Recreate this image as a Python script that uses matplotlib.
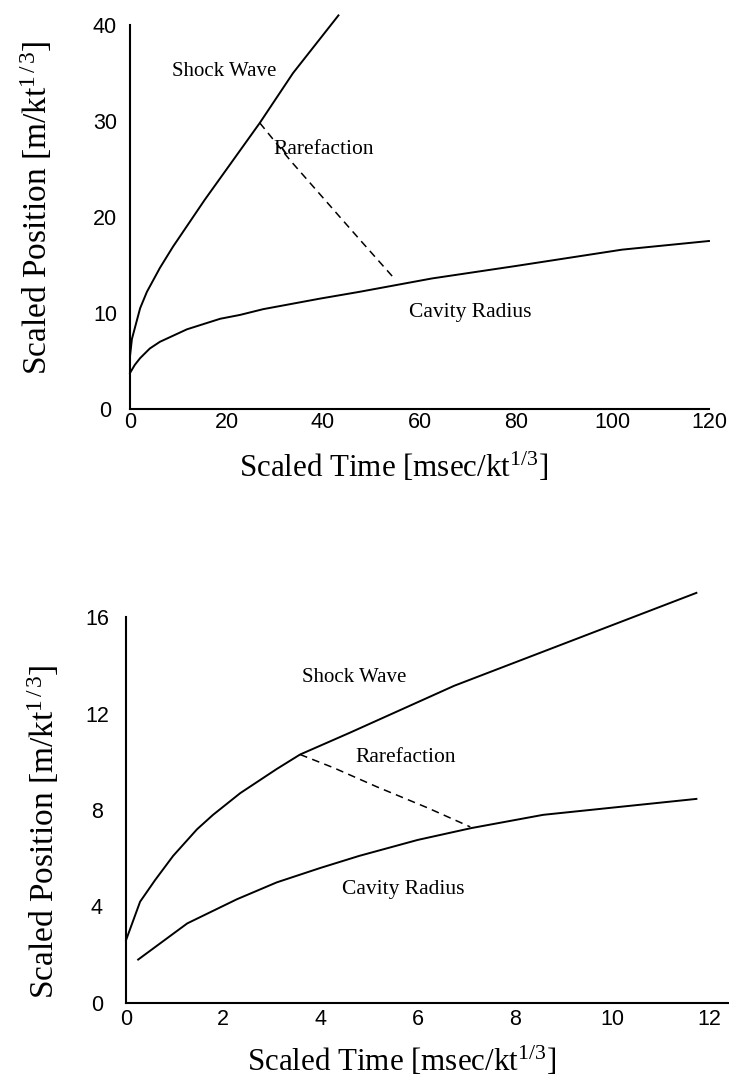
import matplotlib
matplotlib.use("Agg")
import matplotlib.pyplot as plt

plt.rcParams['mathtext.fontset'] = 'custom'
plt.rcParams['mathtext.rm'] = 'Liberation Serif'
plt.rcParams['mathtext.it'] = 'Liberation Serif:italic'

# ---------------- data: top panel ----------------
top_shock_t = [0, 0.4, 2.1, 3.5, 6.2, 8.9, 15.5, 26.9, 33.8, 43.2]
top_shock_y = [5.5, 7.3, 10.5, 12.2, 14.7, 16.9, 21.8, 29.8, 35.0, 41.0]

top_cavity_t = [0, 1.0, 2.1, 4.1, 6.2, 11.8, 18.7, 22.8, 27.6, 39.4, 47.5, 62.6, 80, 102, 120]
top_cavity_y = [3.75, 4.6, 5.3, 6.3, 7.0, 8.3, 9.4, 9.8, 10.4, 11.5, 12.2, 13.6, 14.9, 16.6, 17.5]

top_rare_t = [26.9, 33.2, 36.7, 43.5, 47.7, 54.5]
top_rare_y = [29.8, 25.9, 23.9, 20.0, 17.6, 13.75]

top_xticks = [0, 20, 40, 60, 80, 100, 120]
top_yticks = [0, 10, 20, 30, 40]

# ---------------- data: bottom panel ----------------
bot_shock_t = [0, 0.29, 0.6, 0.97, 1.46, 1.79, 2.35, 3.1, 3.58, 4.6, 6.75, 11.73]
bot_shock_y = [2.6, 4.2, 5.1, 6.1, 7.2, 7.8, 8.7, 9.7, 10.3, 11.2, 13.15, 17.0]

bot_cavity_t = [0.25, 1.26, 2.28, 3.1, 4.0, 4.8, 6.0, 7.1, 8.58, 11.73]
bot_cavity_y = [1.8, 3.3, 4.3, 5.0, 5.6, 6.1, 6.76, 7.25, 7.8, 8.46]

bot_rare_t = [3.58, 4.27, 5.16, 6.19, 7.08]
bot_rare_y = [10.3, 9.75, 8.96, 8.1, 7.3]

bot_xticks = [0, 2, 4, 6, 8, 10, 12]
bot_yticks = [0, 4, 8, 12, 16]

labels = ["Shock Wave", "Rarefaction", "Cavity Radius"]
xlabel = r"Scaled Time [msec/kt$^{\mathrm{1/3}}$]"
ylabel = r"Scaled Position [m/kt$^{\mathrm{1\,/\,3}}$]"

W, H = 729, 1080
fig = plt.figure(figsize=(W / 100, H / 100), dpi=100)

serif = 'Liberation Serif'
sans = 'Liberation Sans'


def make_axes(left, right, top, bottom):
    return fig.add_axes([left / W, 1 - bottom / H, (right - left) / W, (bottom - top) / H])


def style(ax, xticks, yticks, xpad, ypad):
    for s in ['top', 'right']:
        ax.spines[s].set_visible(False)
    for s in ['left', 'bottom']:
        ax.spines[s].set_linewidth(1.5)
        ax.spines[s].set_color('black')
    ax.set_xticks(xticks)
    ax.set_yticks(yticks)
    ax.tick_params(axis='both', length=0, labelsize=15.5)
    ax.tick_params(axis='x', pad=xpad)
    ax.tick_params(axis='y', pad=ypad)
    for lab in ax.get_xticklabels() + ax.get_yticklabels():
        lab.set_fontfamily(sans)
    for lab in ax.get_yticklabels():
        lab.set_horizontalalignment('center')


line_kw = dict(color='black', linewidth=1.4, clip_on=False)
dash_kw = dict(color='black', linewidth=1.1, linestyle=(0, (5, 3.5)))

# ---------------- top panel ----------------
ax1 = make_axes(130, 709, 25, 409)
ax1.plot(top_shock_t, top_shock_y, **line_kw)
ax1.plot(top_cavity_t, top_cavity_y, **line_kw)
ax1.plot(top_rare_t, top_rare_y, **dash_kw)
ax1.set_xlim(0, 120)
ax1.set_ylim(0, 40)
style(ax1, top_xticks, top_yticks, xpad=2, ypad=18)
ax1.text(8.7, 35.2, labels[0], fontfamily=serif, fontsize=15, va='center', ha='left')
ax1.text(29.8, 27.0, labels[1], fontfamily=serif, fontsize=15.5, va='center', ha='left')
ax1.text(57.8, 10.1, labels[2], fontfamily=serif, fontsize=15.5, va='center', ha='left')

fig.text(394 / W, 1 - 477 / H, xlabel, fontfamily=serif, fontsize=22.3, ha='center', va='baseline')
fig.text(36 / W, 1 - 208 / H, ylabel, fontfamily=serif, fontsize=24, ha='center', va='center', rotation=90)

# ---------------- bottom panel ----------------
ax2 = make_axes(126, 728, 617, 1003)
ax2.plot(bot_shock_t, bot_shock_y, **line_kw)
ax2.plot(bot_cavity_t, bot_cavity_y, **line_kw)
ax2.plot(bot_rare_t, bot_rare_y, **dash_kw)
ax2.set_xlim(0, 12.38)
ax2.set_ylim(0, 16)
style(ax2, bot_xticks, bot_yticks, xpad=4.5, ypad=21)
ax2.text(3.62, 13.5, labels[0], fontfamily=serif, fontsize=15, va='center', ha='left')
ax2.text(4.71, 10.17, labels[1], fontfamily=serif, fontsize=15.5, va='center', ha='left')
ax2.text(4.44, 4.7, labels[2], fontfamily=serif, fontsize=15.5, va='center', ha='left')

fig.text(402 / W, 1 - 1071 / H, xlabel, fontfamily=serif, fontsize=22.3, ha='center', va='baseline')
fig.text(43 / W, 1 - 832 / H, ylabel, fontfamily=serif, fontsize=24, ha='center', va='center', rotation=90)

fig.savefig('out.png', dpi=100, facecolor='white')
